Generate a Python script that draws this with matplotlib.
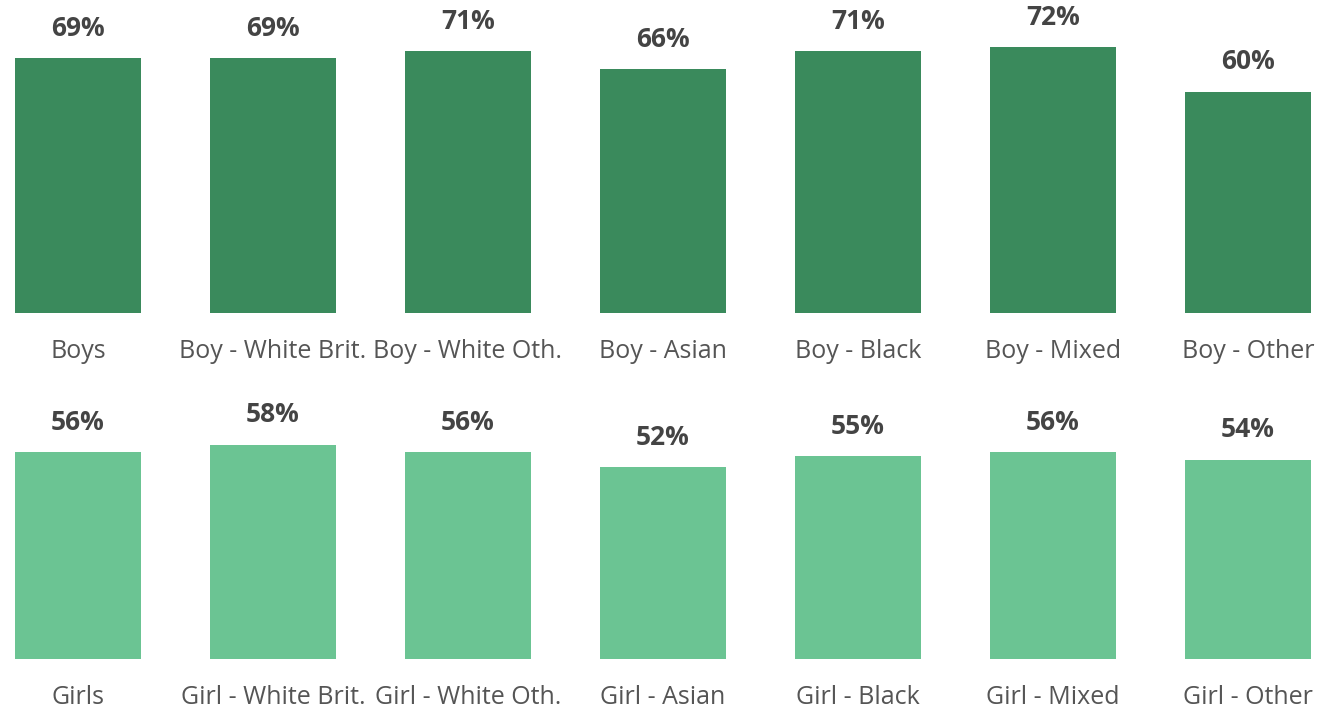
import matplotlib
matplotlib.use("Agg")
import matplotlib.pyplot as plt

boys_labels = ["Boys", "Boy - White Brit.", "Boy - White Oth.", "Boy - Asian",
               "Boy - Black", "Boy - Mixed", "Boy - Other"]
boys_values = [69, 69, 71, 66, 71, 72, 60]
girls_labels = ["Girls", "Girl - White Brit.", "Girl - White Oth.", "Girl - Asian",
                "Girl - Black", "Girl - Mixed", "Girl - Other"]
girls_values = [56, 58, 56, 52, 55, 56, 54]

W, H = 1327, 708
fig = plt.figure(figsize=(W / 100, H / 100), dpi=100)
plt.rcParams['font.family'] = ['Open Sans', 'DejaVu Sans']

px_per_unit = 3.69
ytop = 80
ax_h = ytop * px_per_unit

def make_row(baseline_px, labels, values, color):
    ax = fig.add_axes([0, (H - baseline_px) / H, 1326 / W, ax_h / H])
    x = list(range(len(values)))
    ax.bar(x, values, width=126 / 195, color=color)
    ax.set_xlim(-0.4, 6.4)
    ax.set_ylim(0, ytop)
    ax.axis('off')
    for xi, v, lab in zip(x, values, labels):
        ax.annotate(f"{v}%", (xi, v), xytext=(0, 30), textcoords='offset pixels',
                    ha='center', va='center', fontsize=19, fontweight='bold',
                    color='#444444')
        ax.annotate(lab, (xi, 0), xytext=(0, -39), textcoords='offset pixels',
                    ha='center', va='center', fontsize=18, color='#555555',
                    annotation_clip=False)
    return ax

make_row(313, boys_labels, boys_values, '#3a8a5c')
make_row(659, girls_labels, girls_values, '#6bc493')

fig.savefig("out.png", dpi=100)
